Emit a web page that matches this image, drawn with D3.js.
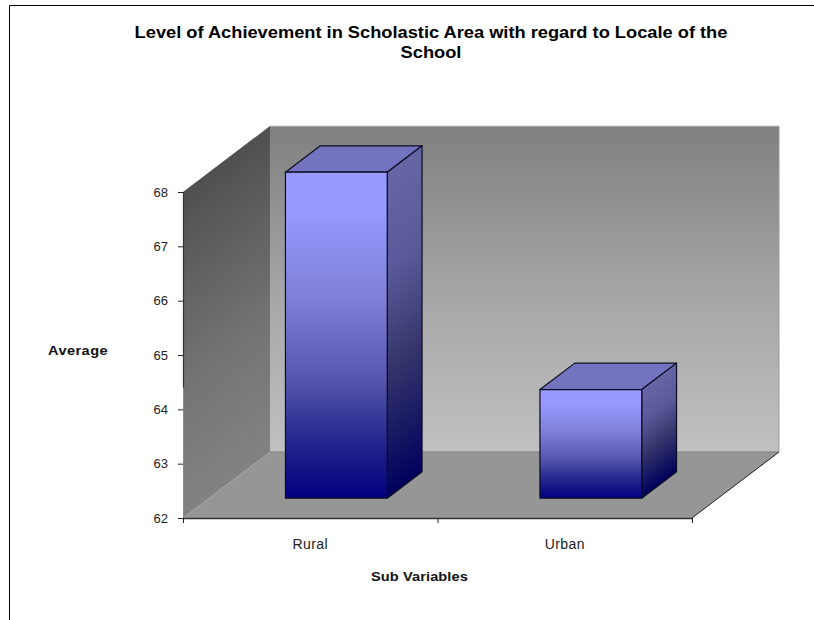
<!DOCTYPE html>
<html>
<head>
<meta charset="utf-8">
<script src="https://cdnjs.cloudflare.com/ajax/libs/d3/7.8.5/d3.min.js"></script>
<style>
  html, body { margin: 0; padding: 0; background: #fff; }
  svg { display: block; }
  text { font-family: "Liberation Sans", Arial, sans-serif; fill: #000; }
  .title { font-size: 16.3px; font-weight: bold; text-anchor: middle; }
  .axis-title { font-size: 13px; font-weight: bold; fill: #111; }
  .axis text { font-size: 13px; fill: #222; }
  .axis.categories text { font-size: 14px; letter-spacing: 0.4px; }
</style>
</head>
<body>
<div id="chart"></div>
<script>
// Chart data
const categories = ["Rural", "Urban"];
const averages = [68, 64];
const yTicks = [62, 63, 64, 65, 66, 67, 68];
const titleLines = [
  "Level of Achievement in Scholastic Area with regard to Locale of the",
  "School"
];

const width = 814, height = 620;

// Front plane of the 3D box
const x0 = 183, x1 = 692, yBottom = 518, yTop = 192;
// How far the back plane is shifted from the front plane
const depthX = 87, depthY = 66;
// Bars take the middle of the depth
const barDepth = [0.3, 0.7];
// The text in the picture is stretched sideways
const textStretch = 1.12;

const xScale = d3.scaleBand()
  .domain(categories)
  .range([x0, x1])
  .paddingInner(0.6)
  .paddingOuter(0.3);

const yScale = d3.scaleLinear()
  .domain([d3.min(yTicks), d3.max(yTicks)])
  .range([yBottom, yTop]);

// Move a front plane point back by depth d (0 to 1)
const proj = (x, y, d) => [x + d * depthX, y - d * depthY];
const line = d3.line();
const poly = pts => line(pts) + "Z";

const svg = d3.select("#chart").append("svg")
  .attr("width", width)
  .attr("height", height);

const defs = svg.append("defs");

function addStops(g, stops) {
  stops.forEach(s => g.append("stop").attr("offset", s[0]).attr("stop-color", s[1]));
}

// Gradient that follows the slope of a side face: its colour bands run along
// the depth direction, from the top front corner to the bottom front corner
function addShearedGradient(id, stops, x, yStart, yEnd) {
  const nx = depthY, ny = depthX;
  const t = (yEnd - yStart) * ny / (nx * nx + ny * ny);
  const g = defs.append("linearGradient")
    .attr("id", id)
    .attr("gradientUnits", "userSpaceOnUse")
    .attr("x1", x).attr("y1", yStart)
    .attr("x2", x + t * nx).attr("y2", yStart + t * ny);
  addStops(g, stops);
}

const backWallStops = [[0, "#808080"], [0.55, "#a8a8a8"], [1, "#c0c0c0"]];
const sideWallStops = [[0, "#505050"], [0.6, "#747474"], [1, "#828282"]];
const barFrontStops = [[0, "#9999ff"], [0.12, "#9999ff"], [0.39, "#7f7fd8"], [0.64, "#5555ad"], [0.84, "#22228c"], [1, "#000080"]];
const barSideStops = [[0, "#6666a6"], [0.3, "#5a5a9a"], [0.6, "#36366c"], [1, "#00005c"]];

addStops(defs.append("linearGradient").attr("id", "backWall")
  .attr("x1", 0).attr("y1", 0).attr("x2", 0).attr("y2", 1), backWallStops);
addShearedGradient("sideWall", sideWallStops, x0, yTop, yBottom);
addStops(defs.append("linearGradient").attr("id", "barFront")
  .attr("x1", 0).attr("y1", 0).attr("x2", 0).attr("y2", 1), barFrontStops);

// Outer chart border, open on the right and the bottom
svg.append("path")
  .attr("d", line([[9.5, height], [9.5, 5.5], [width, 5.5]]))
  .attr("fill", "none")
  .attr("stroke", "#000")
  .attr("stroke-width", 1);

// Title
svg.selectAll("text.title")
  .data(titleLines)
  .enter()
  .append("text")
  .attr("class", "title")
  .attr("transform", (d, i) => `translate(431,${38 + i * 20}) scale(${textStretch},1)`)
  .text(d => d);

// Walls and floor
svg.append("path")
  .attr("d", poly([proj(x0, yBottom, 0), proj(x0, yTop, 0), proj(x0, yTop, 1), proj(x0, yBottom, 1)]))
  .attr("fill", "url(#sideWall)");

svg.append("path")
  .attr("d", poly([proj(x0, yTop, 1), proj(x1, yTop, 1), proj(x1, yBottom, 1), proj(x0, yBottom, 1)]))
  .attr("fill", "url(#backWall)");

// Right edge of the back wall and light top edge
svg.append("path")
  .attr("d", line([proj(x1, yTop, 1), proj(x1, yBottom, 1)]))
  .attr("stroke", "#9a9a9a")
  .attr("fill", "none");
svg.append("path")
  .attr("d", line([proj(x0, yTop, 1), proj(x1, yTop, 1)]))
  .attr("stroke", "#c8c8c8")
  .attr("fill", "none");

svg.append("path")
  .attr("d", poly([proj(x0, yBottom, 0), proj(x1, yBottom, 0), proj(x1, yBottom, 1), proj(x0, yBottom, 1)]))
  .attr("fill", "#969696");

// Back and right edges of the floor
svg.append("path")
  .attr("d", line([proj(x0, yBottom, 1), proj(x1, yBottom, 1)]))
  .attr("stroke", "#808080")
  .attr("fill", "none");
svg.append("path")
  .attr("d", line([proj(x1, yBottom, 0), proj(x1, yBottom, 1)]))
  .attr("stroke", "#222")
  .attr("stroke-width", 1)
  .attr("fill", "none");

// Bars
const barData = categories.map((c, i) => ({ category: c, value: averages[i], id: "barSide" + i }));
const barLeft = d => xScale(d.category);
const barRight = d => xScale(d.category) + xScale.bandwidth();

barData.forEach(d => {
  const start = proj(barRight(d), yScale(d.value), barDepth[0]);
  const end = proj(barRight(d), yBottom, barDepth[0]);
  addShearedGradient(d.id, barSideStops, start[0], start[1], end[1]);
});

const bars = svg.selectAll("g.bar")
  .data(barData)
  .enter()
  .append("g")
  .attr("class", "bar")
  .attr("stroke", "#0c0c22")
  .attr("stroke-width", 1.2)
  .attr("stroke-linejoin", "round");

// top face
bars.append("path")
  .attr("d", d => poly([
    proj(barLeft(d), yScale(d.value), barDepth[0]),
    proj(barRight(d), yScale(d.value), barDepth[0]),
    proj(barRight(d), yScale(d.value), barDepth[1]),
    proj(barLeft(d), yScale(d.value), barDepth[1])
  ]))
  .attr("fill", "#7373bf");

// side face
bars.append("path")
  .attr("d", d => poly([
    proj(barRight(d), yScale(d.value), barDepth[0]),
    proj(barRight(d), yScale(d.value), barDepth[1]),
    proj(barRight(d), yBottom, barDepth[1]),
    proj(barRight(d), yBottom, barDepth[0])
  ]))
  .attr("fill", d => `url(#${d.id})`);

// front face
bars.append("path")
  .attr("d", d => poly([
    proj(barLeft(d), yScale(d.value), barDepth[0]),
    proj(barRight(d), yScale(d.value), barDepth[0]),
    proj(barRight(d), yBottom, barDepth[0]),
    proj(barLeft(d), yBottom, barDepth[0])
  ]))
  .attr("fill", "url(#barFront)");

// Y axis
const yAxis = svg.append("g")
  .attr("class", "axis")
  .attr("transform", `translate(${x0},0)`)
  .call(d3.axisLeft(yScale).tickValues(yTicks).tickFormat(d3.format("d")).tickSize(5).tickSizeOuter(0).tickPadding(10));
yAxis.select(".domain").attr("stroke", "#8a8a8a");
yAxis.selectAll(".tick line").attr("stroke", "#222");

// the upper part of the axis line is darker in the picture
svg.append("path")
  .attr("d", line([[x0 + 0.5, yScale(68)], [x0 + 0.5, yScale(64.4)]]))
  .attr("stroke", "#333")
  .attr("stroke-width", 1.2)
  .attr("fill", "none");

// X axis: ticks sit on the category boundaries, labels on the band centres
const xBoundaries = d3.scaleLinear().domain([0, categories.length]).range([x0, x1]);
const xTickAxis = svg.append("g")
  .attr("class", "axis")
  .attr("transform", `translate(0,${yBottom})`)
  .call(d3.axisBottom(xBoundaries).ticks(categories.length).tickFormat("").tickSize(5).tickSizeOuter(0));
xTickAxis.select(".domain").attr("stroke", "#333").attr("stroke-width", 1.4);
xTickAxis.selectAll(".tick line").attr("stroke", "#222");

const xLabelAxis = svg.append("g")
  .attr("class", "axis categories")
  .attr("transform", `translate(0,${yBottom})`)
  .call(d3.axisBottom(xScale).tickSize(0).tickPadding(21));
xLabelAxis.select(".domain").remove();

// Axis titles
svg.append("text")
  .attr("class", "axis-title")
  .attr("transform", `translate(48,355) scale(${textStretch},1)`)
  .attr("letter-spacing", 0.4)
  .text("Average");

svg.append("text")
  .attr("class", "axis-title")
  .attr("transform", `translate(371,581) scale(${textStretch},1)`)
  .attr("letter-spacing", 0.1)
  .text("Sub Variables");
</script>
</body>
</html>
